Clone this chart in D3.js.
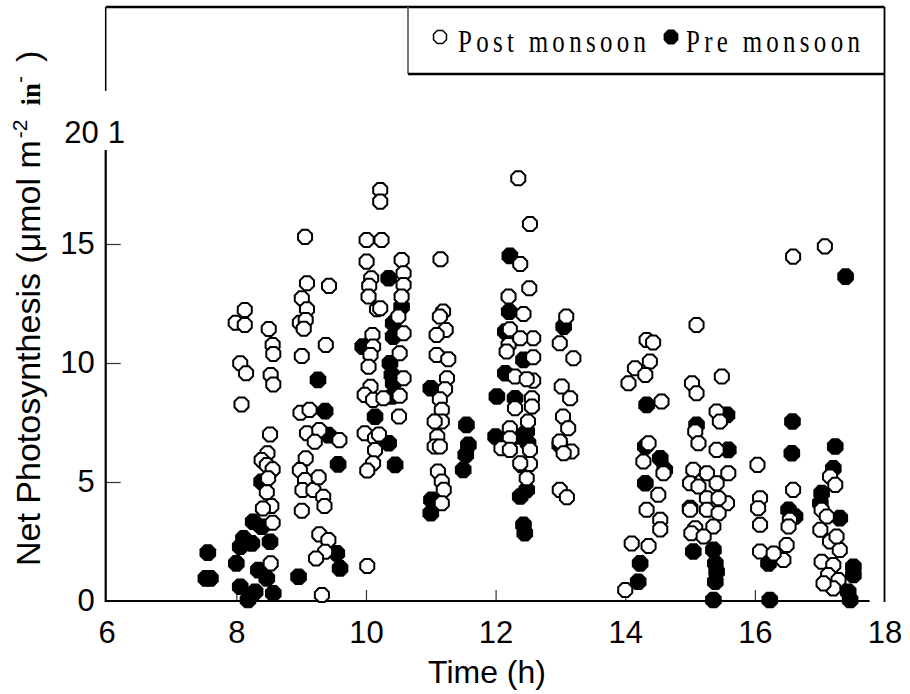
<!DOCTYPE html>
<html>
<head>
<meta charset="utf-8">
<script src="https://cdn.jsdelivr.net/npm/d3@7"></script>
<style>
  body { margin: 0; background: #fff; }
  svg { display: block; }
</style>
</head>
<body>
<div id="chart"></div>
<script>
// tick values
const xTicks = [6, 8, 10, 12, 14, 16, 18];
const yTicks = [0, 5, 10, 15];

// [time (h), net photosynthesis]
const preMonsoon = [
  [7.53, 0.95], [7.6, 0.95], [7.56, 2.03], [8.0, 1.58], [8.06, 2.28], [8.11, 2.63], [8.24, 2.42],
  [8.26, 3.33], [8.39, 3.12], [8.52, 2.49], [8.34, 1.30], [8.47, 0.95], [8.57, 0.32], [8.06, 0.60],
  [8.21, 0.25], [8.29, 0.39], [8.18, 0.04], [8.39, 5.01], [9.26, 9.29], [9.37, 7.98], [9.57, 5.74],
  [8.96, 1.02], [9.55, 2.00], [9.60, 1.37], [9.42, 6.97], [9.95, 10.69], [10.14, 7.74],
  [10.35, 13.56], [10.55, 12.37], [10.42, 11.67], [10.42, 11.11], [10.37, 9.99], [10.40, 9.50],
  [10.42, 9.15], [10.40, 8.59], [10.35, 6.63], [10.45, 5.72],
  [11.00, 8.94], [11.01, 4.25], [11.00, 3.69], [11.55, 7.40], [11.58, 6.56], [11.54, 6.14], [11.50, 5.51],
  [12.22, 14.50], [12.21, 12.16], [12.15, 11.32], [12.43, 10.13], [12.15, 9.57], [12.02, 8.59],
  [12.30, 8.52], [12.00, 6.91], [12.33, 6.91], [12.48, 7.12], [12.50, 6.63], [12.40, 5.72],
  [12.48, 4.67], [12.38, 4.39], [12.43, 3.20], [12.45, 2.85],
  [13.05, 11.53], [12.99, 6.56],
  [14.33, 8.24], [14.31, 6.49], [14.54, 6.00], [14.61, 5.51], [14.31, 4.95], [14.23, 1.58], [14.20, 0.81],
  [15.10, 7.40], [15.57, 7.82], [15.59, 6.35], [15.00, 3.90], [15.05, 2.08], [15.36, 2.15],
  [15.39, 1.58], [15.41, 1.23], [15.39, 0.81], [15.36, 0.04],
  [16.58, 7.54], [16.57, 6.21], [16.21, 1.58], [16.23, 0.04], [16.52, 3.83], [16.62, 3.55],
  [17.24, 6.49], [17.21, 5.57], [17.03, 4.53], [17.31, 3.48], [17.52, 1.44], [17.52, 1.09],
  [17.44, 0.39], [17.47, 0.04], [17.01, 4.11], [17.40, 13.63]
];

const postMonsoon = [
  // ~8 h
  [8.13, 12.23], [7.99, 11.69], [8.13, 11.60], [8.06, 9.99], [8.15, 9.57], [8.08, 8.26],
  [8.50, 11.43], [8.56, 10.76], [8.57, 10.38], [8.53, 9.50], [8.57, 9.10], [8.52, 7.00],
  [8.48, 6.21], [8.39, 5.92], [8.47, 5.71], [8.56, 5.53], [8.49, 5.16], [8.47, 4.57],
  [8.54, 3.99], [8.41, 3.89], [8.56, 3.29], [8.53, 1.58],
  // ~9 h
  [9.32, 0.25], [9.01, 10.29], [9.09, 13.35], [9.01, 12.72], [9.09, 12.26], [8.98, 11.69],
  [9.07, 11.81], [9.04, 11.44], [9.43, 13.24], [9.38, 10.76], [8.99, 7.91], [9.13, 8.03],
  [9.09, 7.05], [9.28, 7.18], [9.21, 6.69], [9.59, 6.76], [9.07, 6.00], [8.98, 5.50],
  [9.06, 5.08], [9.02, 4.66], [9.19, 4.66], [9.27, 5.20], [9.34, 4.38], [9.36, 3.99],
  [9.01, 3.79], [9.28, 2.80], [9.42, 2.56], [9.37, 2.07], [9.23, 1.79], [9.06, 15.3],
  // ~10 h
  [10.02, 1.47], [10.01, 14.26], [10.08, 13.56], [10.05, 13.24], [10.04, 12.79], [10.17, 12.26],
  [10.10, 11.18], [10.11, 10.69], [10.07, 10.34], [10.04, 9.84], [10.07, 9.00], [9.98, 8.66],
  [10.11, 8.45], [9.98, 7.05], [10.14, 6.84], [10.14, 6.34], [10.11, 5.79], [10.02, 5.48],
  [10.22, 17.27], [10.22, 16.78], [10.01, 15.17], [10.24, 15.17], [10.55, 14.33], [10.58, 13.77],
  [10.58, 13.28], [10.22, 12.30], [10.55, 12.79], [10.50, 11.95], [10.58, 11.25], [10.52, 10.41],
  [10.58, 9.36], [10.27, 8.52], [10.52, 8.62], [10.51, 7.75], [10.20, 7.00],
  // ~11 h
  [11.15, 14.36], [11.19, 12.16], [11.14, 11.95], [11.23, 11.39], [11.09, 11.18], [11.09, 10.34],
  [11.27, 10.16], [11.25, 9.36], [11.22, 8.90], [11.14, 8.48], [11.17, 8.03], [11.17, 7.54],
  [11.06, 7.54], [11.10, 6.91], [11.06, 6.49], [11.14, 6.49], [11.11, 5.44], [11.17, 5.02],
  [11.20, 4.67], [11.17, 4.11],
  // ~12 h
  [12.35, 17.76], [12.53, 15.84], [12.38, 14.16], [12.52, 13.14], [12.20, 12.79], [12.43, 12.06],
  [12.22, 11.42], [12.58, 11.04], [12.20, 10.76], [12.17, 10.48], [12.38, 11.04], [12.58, 10.24],
  [12.30, 9.43], [12.58, 9.26], [12.48, 9.32], [12.56, 8.52], [12.30, 8.10], [12.56, 8.17],
  [12.22, 7.26], [12.50, 7.54], [12.22, 6.84], [12.09, 6.42], [12.22, 6.35], [12.53, 6.35],
  [12.53, 5.76], [12.48, 5.16], [12.38, 5.79],
  // ~13 h
  [13.09, 11.95], [12.99, 10.83], [13.20, 10.20], [13.02, 9.01], [13.15, 8.52], [13.04, 7.75],
  [13.12, 7.26], [12.99, 6.70], [13.17, 6.28], [13.05, 6.21], [12.99, 4.67], [13.10, 4.36],
  // ~14 h
  [14.33, 10.97], [14.43, 10.86], [14.38, 10.06], [14.15, 9.78], [14.31, 9.50], [14.05, 9.15],
  [14.56, 8.38], [14.36, 6.63], [14.28, 5.86], [14.59, 5.37], [14.51, 4.46], [14.33, 3.83],
  [14.54, 3.41], [14.54, 3.01], [14.10, 2.42], [14.36, 2.31], [14.00, 0.46],
  // ~15 h
  [15.10, 11.60], [15.03, 9.15], [15.10, 8.73], [15.49, 9.43], [15.41, 7.96], [15.46, 7.54],
  [15.08, 7.12], [15.13, 6.63], [15.41, 6.35], [15.05, 5.51], [15.26, 5.37], [15.59, 5.37],
  [15.00, 4.95], [15.13, 4.81], [15.26, 4.32], [15.41, 4.95], [15.57, 4.11], [15.44, 4.32],
  [15.00, 3.83], [15.26, 3.83], [15.44, 3.69], [15.08, 3.06], [15.36, 3.13], [15.02, 2.85],
  [15.21, 2.71],
  // ~16 h
  [16.04, 5.72], [16.08, 4.32], [16.05, 3.90], [16.08, 3.20], [16.08, 2.08], [16.59, 4.67],
  [16.54, 3.41], [16.52, 3.13], [16.49, 2.35], [16.44, 1.72], [16.29, 2.00], [16.59, 14.47],
  // ~17 h
  [17.16, 5.23], [17.24, 4.88], [17.03, 3.83], [17.11, 3.55], [17.01, 2.99], [17.16, 2.50],
  [17.31, 2.14], [17.03, 1.65], [17.21, 1.51], [17.13, 1.09], [17.29, 0.88], [17.21, 0.53],
  [17.06, 0.74], [17.26, 2.71], [17.08, 14.9]
];

const width = 910;
const height = 694;

const svg = d3.select("#chart")
  .append("svg")
  .attr("width", width)
  .attr("height", height)
  .style("font-family", "'Liberation Sans', Arial, sans-serif");

const x = d3.scaleLinear().domain([6, 18]).range([106.7, 884.5]);
const y = d3.scaleLinear().domain([0, 20]).range([601, 125]);

// octagon marker, flat top
const octagon = r => d3.lineRadial().curve(d3.curveLinearClosed)(
  d3.range(8).map(i => [Math.PI / 8 + i * Math.PI / 4, r])
);

// frame: top line, right line, left stub
svg.append("line")
  .attr("x1", x(6) - 1).attr("x2", x(18)).attr("y1", 7).attr("y2", 7)
  .attr("stroke", "#000").attr("stroke-width", 2.5);
svg.append("line")
  .attr("x1", x(18)).attr("x2", x(18)).attr("y1", 7).attr("y2", 602)
  .attr("stroke", "#000").attr("stroke-width", 1.8);
svg.append("line")
  .attr("x1", x(6) - 1).attr("x2", x(6) - 1).attr("y1", 7).attr("y2", 91)
  .attr("stroke", "#000").attr("stroke-width", 1.5);

// x axis
const xAxis = svg.append("g")
  .attr("transform", `translate(0, ${y(0)})`)
  .call(d3.axisBottom(x).tickValues(xTicks).tickSizeInner(-11).tickSizeOuter(0).tickPadding(20));
xAxis.select(".domain").remove();
xAxis.selectAll(".tick line")
  .attr("stroke", "#333")
  .attr("stroke-width", 1.2)
  .filter(d => d === 6 || d === 18).remove();
xAxis.selectAll(".tick text")
  .attr("font-size", 31)
  .attr("font-family", "'Liberation Sans', Arial, sans-serif")
  .attr("fill", "#000")
  .attr("dy", "0.71em");

svg.append("line")
  .attr("x1", x(6) - 1).attr("x2", x(17.77)).attr("y1", y(0)).attr("y2", y(0))
  .attr("stroke", "#000").attr("stroke-width", 2.2);

// y axis
const yAxis = svg.append("g")
  .attr("transform", `translate(${x(6) - 1}, 0)`)
  .call(d3.axisLeft(y).tickValues(yTicks).tickSizeInner(-15).tickSizeOuter(0).tickPadding(11));
yAxis.select(".domain").remove();
yAxis.selectAll(".tick line")
  .attr("stroke", "#333")
  .attr("stroke-width", 1.2)
  .filter(d => d === 0).remove();
yAxis.selectAll(".tick text")
  .attr("font-size", 31)
  .attr("font-family", "'Liberation Sans', Arial, sans-serif")
  .attr("fill", "#000");

svg.append("line")
  .attr("x1", x(6) - 1).attr("x2", x(6) - 1).attr("y1", 150).attr("y2", y(0) + 1)
  .attr("stroke", "#000").attr("stroke-width", 2.2);

// the odd "201" top label
svg.append("text")
  .attr("x", x(6) - 8).attr("y", 143)
  .attr("text-anchor", "end")
  .attr("font-size", 31)
  .text("20");
svg.append("text")
  .attr("x", x(6) + 1).attr("y", 143)
  .attr("font-size", 31)
  .text("1");

// points
svg.append("g")
  .selectAll("path")
  .data(preMonsoon)
  .join("path")
  .attr("transform", d => `translate(${x(d[0])}, ${y(d[1])})`)
  .attr("d", octagon(9))
  .attr("fill", "#000");

svg.append("g")
  .selectAll("path")
  .data(postMonsoon)
  .join("path")
  .attr("transform", d => `translate(${x(d[0])}, ${y(d[1])})`)
  .attr("d", octagon(7.6))
  .attr("fill", "#fff")
  .attr("stroke", "#000")
  .attr("stroke-width", 2);

// legend box
svg.append("line")
  .attr("x1", 408).attr("x2", 408).attr("y1", 7).attr("y2", 74)
  .attr("stroke", "#666").attr("stroke-width", 1.8);
svg.append("line")
  .attr("x1", 408).attr("x2", x(18)).attr("y1", 74).attr("y2", 74)
  .attr("stroke", "#000").attr("stroke-width", 2.5);

const legend = svg.append("g").style("font-family", "'Liberation Serif', 'Times New Roman', serif");
legend.append("path")
  .attr("transform", "translate(440, 37)")
  .attr("d", octagon(7))
  .attr("fill", "#fff").attr("stroke", "#000").attr("stroke-width", 1.5);
legend.append("text")
  .attr("transform", "translate(458, 52) scale(0.86, 1.12)")
  .attr("font-size", 29)
  .attr("letter-spacing", 5)
  .text("Post monsoon");
legend.append("path")
  .attr("transform", "translate(671, 37)")
  .attr("d", octagon(8))
  .attr("fill", "#000");
legend.append("text")
  .attr("transform", "translate(686, 52) scale(0.86, 1.12)")
  .attr("font-size", 29)
  .attr("letter-spacing", 5)
  .text("Pre monsoon");

// axis titles
svg.append("text")
  .attr("x", 487).attr("y", 683)
  .attr("text-anchor", "middle")
  .attr("font-size", 32)
  .text("Time (h)");

const yTitle = svg.append("text")
  .attr("transform", "translate(40, 566) rotate(-90)")
  .attr("font-size", 34);
yTitle.append("tspan").text("Net Photosynthesis (\u03bcmol m");
yTitle.append("tspan").attr("dy", -13).attr("dx", 2).attr("font-size", 21).text("-2");
yTitle.append("tspan").attr("dy", 13).attr("dx", 14)
  .attr("font-family", "'Liberation Serif', serif").attr("font-weight", "bold").attr("font-size", 27).text("in");
yTitle.append("tspan").attr("dy", -13).attr("font-size", 21).text("-");
yTitle.append("tspan").attr("dy", 13).attr("dx", 14).text(")");
</script>
</body>
</html>
